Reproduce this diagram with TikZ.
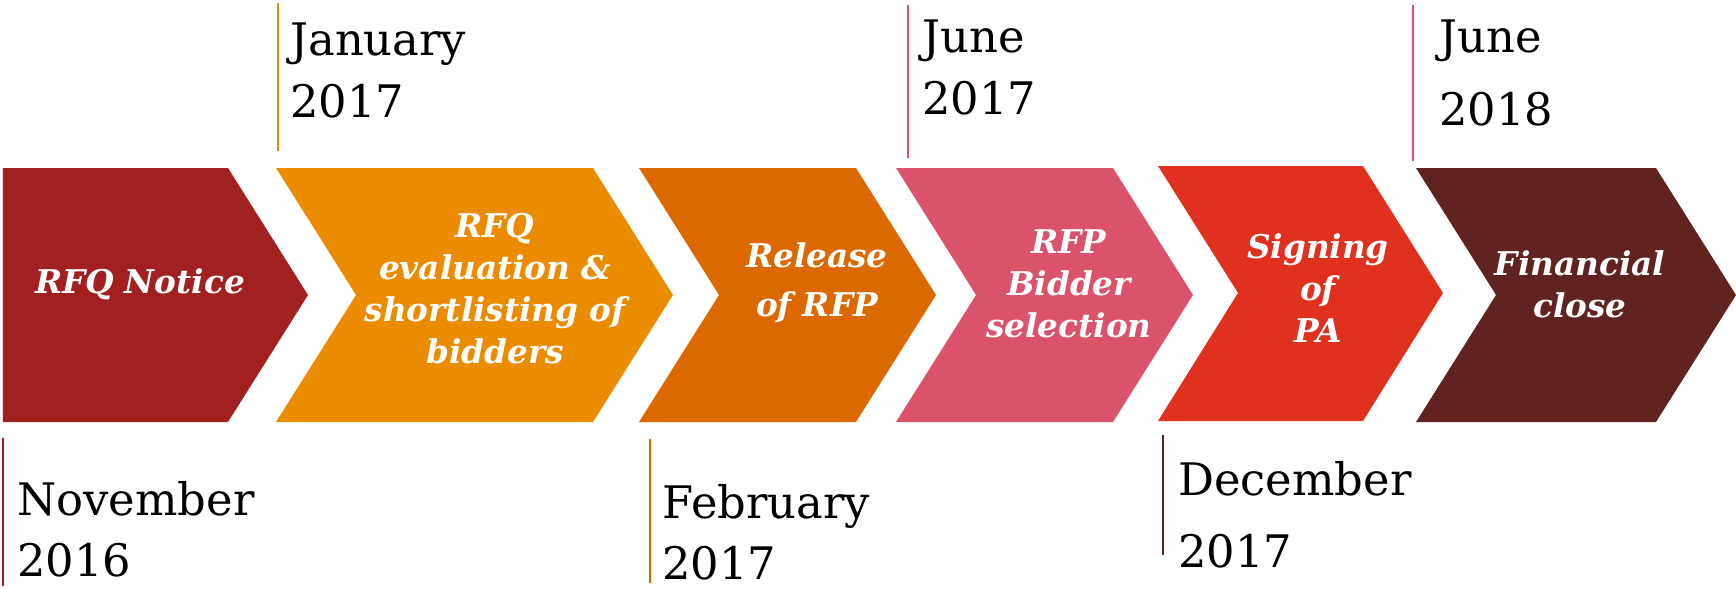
\documentclass[tikz,border=0pt]{standalone}
\usepackage{fontspec}
\setmainfont{DejaVu Serif}
\usepackage{tikz}
\definecolor{pwcred}{RGB}{163, 32, 32}
\definecolor{pwcorange}{RGB}{235, 140, 0}
\definecolor{pwctangerine}{RGB}{220, 105, 0}
\definecolor{pwcrose}{RGB}{219, 83, 106}
\definecolor{pwcbright}{RGB}{224, 48, 30}
\definecolor{pwcmaroon}{RGB}{96, 35, 32}
\tikzset{
  steplabel/.style={text=white, font=\fontsize{18.6}{24}\selectfont\bfseries\itshape, text width=7cm, align=center, anchor=base, inner sep=0pt},
  datelabel/.style={text=black, font=\fontsize{25.5}{35}\selectfont, text width=5cm, align=left, anchor=base west, inner sep=0pt},
  tick/.style={line width=1.1pt}
}

\begin{document}
\begin{tikzpicture}
  \useasboundingbox (0,0) rectangle (34.72,-11.78);

  % RFQ notice
  \fill[pwcred] (0.06,-3.36) -- (4.56,-3.36) -- (6.16,-5.90) -- (4.56,-8.44) -- (0.06,-8.44) -- cycle;
  \node[steplabel] (rfq) at (2.80,-5.86) {RFQ Notice};

  % RFQ evaluation
  \fill[pwcorange] (5.52,-3.36) -- (11.86,-3.36) -- (13.46,-5.90) -- (11.86,-8.44) -- (5.52,-8.44) -- (7.12,-5.90) -- cycle;
  \node[steplabel] (eval) at (9.90,-4.74) {RFQ\\evaluation \&\\shortlisting of\\bidders};

  % Release of RFP
  \fill[pwctangerine] (12.78,-3.36) -- (17.12,-3.36) -- (18.72,-5.90) -- (17.12,-8.44) -- (12.78,-8.44) -- (14.38,-5.90) -- cycle;
  \node[steplabel] (release) at (16.34,-5.34) {Release\\[4pt]of RFP};

  % RFP bidder selection
  \fill[pwcrose] (17.92,-3.36) -- (22.26,-3.36) -- (23.86,-5.90) -- (22.26,-8.44) -- (17.92,-8.44) -- (19.52,-5.90) -- cycle;
  \node[steplabel] (bidder) at (21.38,-5.06) {RFP\\Bidder\\selection};

  % Signing of PA
  \fill[pwcbright] (23.16,-3.32) -- (27.26,-3.32) -- (28.86,-5.86) -- (27.26,-8.42) -- (23.16,-8.42) -- (24.76,-5.86) -- cycle;
  \node[steplabel] (signing) at (26.36,-5.16) {Signing\\of\\PA};

  % Financial close
  \fill[pwcmaroon] (28.32,-3.36) -- (33.12,-3.36) -- (34.72,-5.90) -- (33.12,-8.44) -- (28.32,-8.44) -- (29.92,-5.90) -- cycle;
  \node[steplabel] (close) at (31.60,-5.50) {Financial\\close};

  % Dates above
  \draw[tick, pwcorange] (5.56,-0.06) -- (5.56,-3.02);
  \node[datelabel] (jan) at (5.80,-1.12) {January\\2017};
  \draw[tick, pwcrose] (18.16,-0.10) -- (18.16,-3.16);
  \node[datelabel] (jun17) at (18.44,-1.06) {June\\2017};
  \draw[tick, pwcrose] (28.26,-0.10) -- (28.26,-3.22);
  \node[datelabel] (jun18) at (28.78,-1.06) {June\\[6pt]2018};

  % Dates below
  \draw[tick, pwcred] (0.06,-8.76) -- (0.06,-11.72);
  \node[datelabel] (nov) at (0.34,-10.30) {November\\2016};
  \draw[tick, pwctangerine] (13.00,-8.78) -- (13.00,-11.66);
  \node[datelabel] (feb) at (13.24,-10.36) {February\\2017};
  \draw[tick, pwcmaroon] (23.26,-8.70) -- (23.26,-11.10);
  \node[datelabel] (dec) at (23.56,-9.90) {December\\[6pt]2017};
\end{tikzpicture}
\end{document}
